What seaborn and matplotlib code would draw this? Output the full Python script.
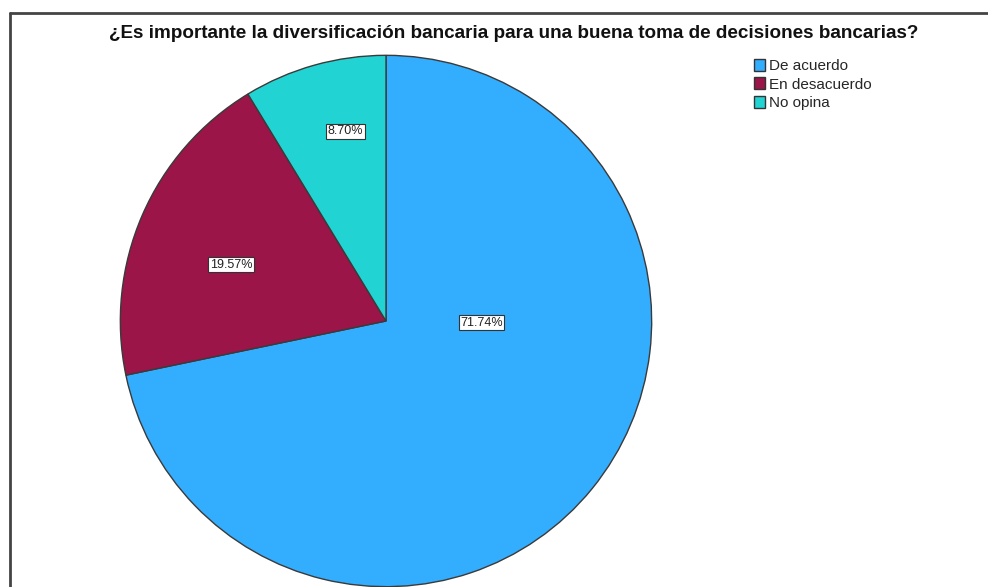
import numpy as np
import matplotlib
matplotlib.use("Agg")
import matplotlib.pyplot as plt
import seaborn as sns
from matplotlib.patches import Patch
from matplotlib.lines import Line2D

title = "¿Es importante la diversificación bancaria para una buena toma de decisiones bancarias?"
categories = ["De acuerdo", "En desacuerdo", "No opina"]
percentages = [71.74, 19.57, 8.70]
colors = sns.color_palette(["#33adfe", "#9b1548", "#22d3d3"])
# label placement (radius fraction, angle in degrees) like SPSS output
label_pos = [(0.36, -1), (0.62, 160), (0.73, 102)]

sns.set_theme(style="white")
plt.rcParams["font.family"] = ["Liberation Sans", "DejaVu Sans"]

fig = plt.figure(figsize=(9.88, 5.87), dpi=100)
ax = fig.add_axes([119 / 988, -1 / 587, 534 / 988, 534 / 587])

wedges, _ = ax.pie(percentages, colors=colors, startangle=90, counterclock=False,
                   radius=1, wedgeprops=dict(edgecolor="#3a3a3a", linewidth=1.0))
for pct, (r, ang) in zip(percentages, label_pos):
    a = np.deg2rad(ang)
    ax.text(r * np.cos(a), r * np.sin(a), f"{pct:.2f}%", ha="center", va="center",
            fontsize=9, color="#222222",
            bbox=dict(boxstyle="square,pad=0.12", fc="white", ec="#333333", lw=0.8))
ax.set_xlim(-1.005, 1.005)
ax.set_ylim(-1.005, 1.005)
ax.set_aspect("equal")
ax.axis("off")

fig.text(0.52, 1 - 34 / 587, title, ha="center", va="center",
         fontsize=13.6, fontweight="bold", color="#111111")

handles = [Patch(facecolor=c, edgecolor="#333333", label=l) for c, l in zip(colors, categories)]
fig.legend(handles=handles, loc="upper left", bbox_to_anchor=(754 / 988, 1 - 59 / 587),
           frameon=False, fontsize=11, handlelength=0.75, handleheight=0.8,
           handletextpad=0.2, labelspacing=0.28, borderpad=0, borderaxespad=0)

# frame lines (top and left) as in the exported SPSS viewer
fig.add_artist(Line2D([10 / 988, 1], [1 - 13 / 587, 1 - 13 / 587], color="#444444", lw=2,
                      transform=fig.transFigure))
fig.add_artist(Line2D([10 / 988, 10 / 988], [0, 1 - 13 / 587], color="#444444", lw=2,
                      transform=fig.transFigure))

fig.savefig("out.png", dpi=100, facecolor="white")
